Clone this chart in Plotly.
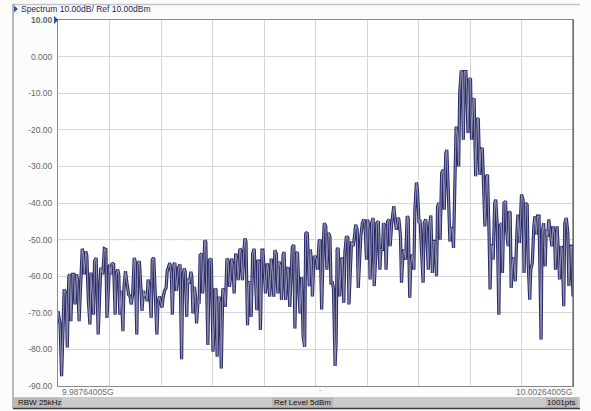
import plotly.graph_objects as go

# Sweep settings
start_hz = 9.98764005e9
stop_hz = 10.00264005e9
n_points = 1001

# Trace: sweep bin index and measured level (dBm)
bins = [
    0, 4, 7, 10, 12, 16, 18, 21, 23, 25, 28, 31, 33, 36, 38, 41, 43, 47, 49, 51,
    54, 56, 59, 62, 64, 67, 69, 71, 74, 76, 78, 81, 83, 87, 90, 93, 95, 98, 100, 103,
    105, 108, 111, 113, 116, 118, 120, 123, 126, 128, 131, 133, 137, 140, 142, 145, 148, 150, 153, 155,
    158, 161, 163, 166, 168, 170, 173, 175, 178, 181, 183, 186, 188, 192, 194, 197, 199, 202, 204, 207,
    210, 212, 215, 217, 220, 222, 225, 227, 230, 234, 237, 240, 242, 245, 247, 250, 252, 255, 258, 260,
    262, 265, 267, 269, 272, 274, 276, 279, 281, 283, 285, 287, 289, 291, 294, 297, 298, 301, 304, 305,
    307, 309, 311, 313, 315, 317, 320, 322, 325, 328, 330, 333, 335, 337, 340, 342, 345, 348, 350, 353,
    355, 358, 361, 363, 365, 368, 370, 373, 375, 378, 381, 383, 386, 388, 391, 393, 396, 398, 401, 403,
    406, 408, 411, 414, 416, 419, 421, 424, 427, 429, 432, 434, 437, 439, 442, 445, 447, 450, 452, 455,
    458, 460, 463, 465, 468, 470, 473, 476, 479, 481, 484, 486, 488, 490, 492, 494, 497, 499, 502, 504,
    507, 509, 512, 515, 517, 520, 522, 525, 528, 530, 533, 535, 538, 540, 542, 544, 547, 550, 552, 555,
    557, 560, 563, 565, 568, 570, 573, 575, 578, 581, 583, 586, 588, 591, 594, 596, 599, 601, 604, 606,
    609, 612, 614, 617, 619, 622, 625, 627, 630, 632, 635, 637, 640, 643, 645, 648, 650, 652, 654, 657,
    660, 662, 665, 667, 670, 672, 675, 678, 680, 683, 685, 688, 691, 693, 696, 698, 701, 703, 706, 709,
    711, 714, 716, 719, 722, 724, 727, 729, 732, 735, 737, 740, 742, 745, 748, 750, 753, 755, 758, 761,
    763, 766, 768, 771, 773, 776, 778, 780, 783, 785, 787, 789, 792, 794, 796, 798, 801, 803, 806, 808,
    811, 814, 816, 819, 821, 824, 827, 829, 832, 834, 837, 839, 841, 843, 845, 848, 850, 853, 856, 858,
    861, 863, 866, 869, 871, 874, 876, 878, 880, 883, 885, 888, 891, 893, 896, 898, 900, 903, 905, 908,
    911, 913, 916, 918, 921, 924, 926, 929, 931, 934, 936, 938, 940, 943, 946, 948, 951, 953, 956, 959,
    961, 964, 966, 969, 971, 974, 977, 979, 982, 984, 987, 990, 992, 995, 997, 999, 1000,
]
level_dbm = [
    -69.5, -73.2, -87.3, -71.4, -63.6, -65.0, -79.5, -60.0, -59.5, -72.3, -59.5, -59.5, -67.7, -59.5, -61.0, -72.3, -64.0, -52.5, -53.6, -59.5,
    -53.2, -54.5, -66.8, -73.2, -59.0, -65.0, -70.5, -55.9, -55.0, -64.0, -75.9, -65.0, -57.7, -59.5, -52.5, -52.7, -71.4, -63.2, -56.8, -59.5,
    -56.4, -56.8, -70.5, -59.5, -58.2, -59.5, -70.5, -64.0, -75.0, -63.2, -58.6, -60.9, -65.0, -65.5, -67.7, -65.0, -55.0, -55.9, -75.9, -56.8,
    -55.9, -63.2, -69.5, -64.0, -65.5, -64.5, -66.8, -60.9, -64.0, -71.4, -55.5, -55.0, -63.2, -75.9, -67.7, -65.5, -66.8, -68.6, -65.9, -64.0,
    -63.2, -58.6, -57.3, -56.4, -59.0, -70.5, -56.8, -56.4, -64.0, -57.7, -56.8, -82.7, -61.1, -57.9, -58.8, -71.1, -60.6, -62.0, -58.8, -60.2,
    -70.2, -62.9, -65.6, -72.9, -66.5, -67.5, -54.3, -53.8, -64.7, -55.6, -50.2, -50.6, -70.2, -78.8, -55.6, -55.2, -57.5, -80.6, -71.1, -63.4,
    -63.8, -82.0, -66.5, -65.6, -67.5, -85.2, -63.4, -63.8, -68.4, -55.2, -55.6, -62.9, -60.2, -55.2, -57.5, -64.7, -53.8, -55.6, -61.1, -52.5,
    -52.9, -61.1, -52.9, -49.7, -50.6, -73.4, -62.0, -61.5, -71.1, -53.8, -52.5, -58.4, -69.3, -55.6, -56.1, -74.7, -52.9, -52.9, -62.0, -64.7,
    -56.5, -57.5, -65.6, -55.2, -58.4, -65.6, -52.9, -53.8, -64.7, -56.1, -57.0, -66.5, -54.3, -53.4, -66.5, -58.4, -57.5, -68.4, -62.0, -52.0,
    -51.5, -74.3, -53.8, -53.4, -64.7, -70.2, -60.2, -76.5, -79.3, -48.4, -48.0, -53.6, -62.7, -52.7, -55.5, -65.5, -55.0, -54.5, -55.5, -58.2,
    -50.5, -50.0, -69.1, -51.8, -45.5, -46.4, -58.2, -48.2, -49.1, -61.8, -61.8, -63.6, -84.5, -78.2, -52.7, -52.3, -65.5, -55.5, -55.0, -67.3,
    -53.6, -49.1, -49.5, -67.7, -53.6, -50.5, -51.8, -50.0, -45.9, -47.3, -63.2, -52.7, -49.1, -45.5, -44.5, -45.5, -55.5, -44.5, -46.8, -60.9,
    -45.5, -44.1, -62.7, -54.5, -45.5, -45.0, -58.2, -52.7, -52.7, -45.5, -46.4, -58.2, -45.0, -44.5, -51.8, -45.5, -42.7, -40.9, -43.6, -47.3,
    -44.1, -44.5, -49.1, -61.8, -53.6, -52.7, -55.5, -43.6, -44.1, -65.9, -56.4, -54.1, -58.2, -41.8, -34.4, -36.4, -45.5, -44.5, -53.6, -61.8,
    -45.5, -44.5, -47.7, -58.2, -45.5, -43.4, -59.1, -50.5, -50.5, -60.0, -40.9, -40.0, -50.0, -31.8, -30.9, -41.8, -26.4, -25.5, -37.3, -50.5,
    -46.8, -47.3, -52.3, -28.2, -19.1, -21.8, -30.0, -10.0, -3.8, -4.5, -22.7, -4.1, -4.1, -10.0, -20.9, -6.4, -5.9, -22.7, -11.8, -11.4,
    -32.7, -17.3, -16.8, -32.3, -25.5, -25.0, -40.9, -46.4, -32.7, -32.3, -48.2, -63.6, -51.4, -51.8, -55.5, -40.0, -39.1, -46.4, -70.5, -46.4,
    -45.5, -59.1, -40.0, -39.5, -47.3, -51.8, -42.3, -42.7, -63.2, -55.5, -55.0, -61.4, -48.2, -43.2, -50.9, -41.4, -37.7, -39.1, -59.1, -40.0,
    -40.5, -56.4, -66.4, -58.2, -56.4, -46.4, -43.6, -48.6, -43.6, -43.6, -60.0, -77.3, -48.2, -45.5, -57.3, -47.3, -49.1, -44.5, -48.2, -51.8,
    -46.4, -48.2, -58.2, -46.4, -51.8, -60.9, -51.8, -52.7, -68.2, -45.5, -44.1, -48.2, -62.7, -51.8, -51.8, -59.1, -65.5,
]

# Axis labels
y_ticks = [10, 0, -10, -20, -30, -40, -50, -60, -70, -80, -90]
y_tick_text = ["<b>10.00</b>", "0.000", "-10.00", "-20.00", "-30.00", "-40.00",
               "-50.00", "-60.00", "-70.00", "-80.00", "-90.00"]
start_label = "9.98764005G"
stop_label = "10.00264005G"
title_text = "Spectrum 10.00dB/ Ref 10.00dBm"
status_left = "RBW 25kHz"
status_mid = "Ref Level 5dBm"
status_right = "1001pts"

step_hz = (stop_hz - start_hz) / (n_points - 1)
freq_hz = [start_hz + b * step_hz for b in bins]

W, H = 591, 411
PL, PR, PT, PB = 58, 573, 20, 386


def px(x):
    return (x - PL) / (PR - PL)


def py(y):
    return (PB - y) / (PB - PT)


fig = go.Figure()
# dark outer stroke with a lighter core, like the analyzer's trace rendering
fig.add_trace(go.Scatter(x=freq_hz, y=level_dbm, mode="lines",
                         line=dict(color="#2a2b6b", width=3.2),
                         hoverinfo="skip", showlegend=False))
fig.add_trace(go.Scatter(x=freq_hz, y=level_dbm, mode="lines",
                         line=dict(color="#8d8dab", width=1.1),
                         hoverinfo="skip", showlegend=False))

shapes = []
# reference-level dashed line
shapes.append(dict(type="line", xref="paper", yref="y", x0=0, x1=1, y0=-50, y1=-50,
                   line=dict(color="#a9a9a9", width=1, dash="dash"), layer="below"))
# outer frame
shapes.append(dict(type="line", xref="paper", yref="paper", x0=px(13), x1=px(580),
                   y0=py(4.5), y1=py(4.5), line=dict(color="#c4c4c4", width=1.5)))
shapes.append(dict(type="line", xref="paper", yref="paper", x0=px(13), x1=px(13),
                   y0=py(4), y1=py(408), line=dict(color="#8a8a8a", width=1.2)))
# status bar
shapes.append(dict(type="rect", xref="paper", yref="paper", x0=px(13), x1=px(580),
                   y0=py(397), y1=py(408), fillcolor="#cbcbcb", line=dict(width=0)))
for x0, x1 in [(13, 62), (272, 333), (546, 578)]:
    shapes.append(dict(type="rect", xref="paper", yref="paper", x0=px(x0), x1=px(x1),
                       y0=py(397.5), y1=py(407.5), fillcolor="#b9b9b9", line=dict(width=0)))
shapes.append(dict(type="line", xref="paper", yref="paper", x0=px(13), x1=px(580),
                   y0=py(408.5), y1=py(408.5), line=dict(color="#3a3a3a", width=1.5)))
# plot right border
shapes.append(dict(type="line", xref="paper", yref="paper", x0=1, x1=1, y0=0, y1=1,
                   line=dict(color="#5a5a5a", width=1.2)))
# blue markers
shapes.append(dict(type="path", xref="paper", yref="paper",
                   path=f"M {px(14)} {py(5.5)} L {px(18)} {py(9)} L {px(14)} {py(12.5)} Z",
                   fillcolor="#2f4fb0", line=dict(width=0)))
shapes.append(dict(type="path", xref="paper", yref="paper",
                   path=f"M {px(54)} {py(16)} L {px(58.5)} {py(20)} L {px(54)} {py(24)} Z",
                   fillcolor="#2f4fb0", line=dict(width=0)))

font = "Liberation Sans"
annotations = [
    dict(text=title_text, x=px(18.5), y=py(9), xref="paper", yref="paper",
         xanchor="left", yanchor="middle", showarrow=False,
         font=dict(family=font, size=8.5, color="#1e1e55")),
    dict(text=start_label, x=px(60), y=py(392), xref="paper", yref="paper",
         xanchor="left", yanchor="middle", showarrow=False,
         font=dict(family=font, size=8.5, color="#707070")),
    dict(text=stop_label, x=px(574), y=py(392), xref="paper", yref="paper",
         xanchor="right", yanchor="middle", showarrow=False,
         font=dict(family=font, size=8.5, color="#707070")),
    dict(text=".", x=px(320), y=py(389), xref="paper", yref="paper",
         xanchor="center", yanchor="middle", showarrow=False,
         font=dict(family=font, size=8, color="#404040")),
    dict(text=status_left, x=px(15.5), y=py(402.5), xref="paper", yref="paper",
         xanchor="left", yanchor="middle", showarrow=False,
         font=dict(family=font, size=8, color="#111111")),
    dict(text=status_mid, x=px(302), y=py(402.5), xref="paper", yref="paper",
         xanchor="center", yanchor="middle", showarrow=False,
         font=dict(family=font, size=8, color="#111111")),
    dict(text=status_right, x=px(577), y=py(402.5), xref="paper", yref="paper",
         xanchor="right", yanchor="middle", showarrow=False,
         font=dict(family=font, size=8, color="#111111")),
]

fig.update_layout(
    width=W, height=H,
    margin=dict(l=PL, r=W - PR, t=PT, b=H - PB, pad=0),
    paper_bgcolor="#fcfcfc", plot_bgcolor="#ffffff",
    shapes=shapes, annotations=annotations, showlegend=False,
)
fig.update_xaxes(range=[start_hz, stop_hz], tick0=start_hz, dtick=(stop_hz - start_hz) / 10,
                 showticklabels=False, ticks="", showgrid=True, gridcolor="#d6d6d6", gridwidth=1,
                 zeroline=False, showline=True, linecolor="#8a8a8a", linewidth=1, mirror=True)
fig.update_yaxes(range=[-90, 10], tickmode="array", tickvals=y_ticks, ticktext=y_tick_text,
                 ticks="", ticklabelstandoff=3, showgrid=True, gridcolor="#d6d6d6", gridwidth=1,
                 zeroline=False, showline=True, linecolor="#8a8a8a", linewidth=1, mirror=True,
                 tickfont=dict(family=font, size=8.5, color="#666666"))

fig.write_html("out.html")
